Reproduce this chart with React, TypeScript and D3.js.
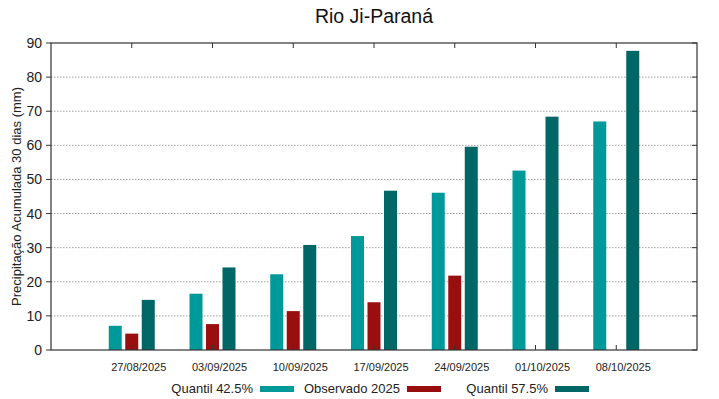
import React, { useRef, useEffect } from 'react';
import * as d3 from 'd3';

const dates = ['27/08/2025', '03/09/2025', '10/09/2025', '17/09/2025', '24/09/2025', '01/10/2025', '08/10/2025'];
const quantil425 = [7.1, 16.5, 22.2, 33.4, 46.1, 52.6, 67.0];
const observado2025 = [4.8, 7.6, 11.4, 14.0, 21.8, null, null];
const quantil575 = [14.7, 24.2, 30.8, 46.7, 59.6, 68.4, 87.7];
const yTicks = [0, 10, 20, 30, 40, 50, 60, 70, 80, 90];

const seriesNames = ['Quantil 42.5%', 'Observado 2025', 'Quantil 57.5%'];
const seriesColors = ['#009999', '#990f0f', '#006666'];

export default function App() {
    const ref = useRef<SVGSVGElement>(null);

    useEffect(() => {
        const width = 719;
        const height = 399;
        const left = 51, right = 697, top = 43, bottom = 350;
        const font = 'Liberation Sans, Arial, sans-serif';

        const svg = d3.select(ref.current);
        svg.selectAll('*').remove();

        const x = d3.scaleLinear().domain([0, dates.length + 1]).range([left, right]);
        const y = d3.scaleLinear().domain([0, 90]).range([bottom, top]);
        const barW = 13;
        const step = 16.5;

        // grid lines
        svg.append('g')
            .selectAll('line')
            .data(yTicks.filter(d => d > 0 && d < 90))
            .enter()
            .append('line')
            .attr('x1', left).attr('x2', right)
            .attr('y1', d => y(d)).attr('y2', d => y(d))
            .attr('stroke', '#a0a0a0')
            .attr('stroke-width', 1)
            .attr('stroke-dasharray', '1.5,1.5');

        // bars
        const allSeries = [quantil425, observado2025, quantil575];
        allSeries.forEach((vals, s) => {
            svg.append('g')
                .selectAll('rect')
                .data(vals.map((v, i) => ({ v, i })).filter(d => d.v !== null))
                .enter()
                .append('rect')
                .attr('x', d => x(d.i + 1) + (s - 1) * step - barW / 2)
                .attr('y', d => y(d.v as number))
                .attr('width', barW)
                .attr('height', d => bottom - y(d.v as number))
                .attr('fill', seriesColors[s]);
        });

        // frame
        svg.append('rect')
            .attr('x', left).attr('y', top)
            .attr('width', right - left).attr('height', bottom - top)
            .attr('fill', 'none')
            .attr('stroke', '#333')
            .attr('stroke-width', 1.2);

        // y ticks (left outward, mirrored right inward)
        const yt = svg.append('g');
        yTicks.forEach(t => {
            yt.append('line').attr('x1', left - 5).attr('x2', left)
                .attr('y1', y(t)).attr('y2', y(t)).attr('stroke', '#333');
            yt.append('line').attr('x1', right - 5).attr('x2', right)
                .attr('y1', y(t)).attr('y2', y(t)).attr('stroke', '#333');
            yt.append('text')
                .attr('x', left - 9).attr('y', y(t) + 5)
                .attr('text-anchor', 'end')
                .style('font-family', font).style('font-size', '14px').attr('fill', '#222')
                .text(t);
        });

        // x ticks (bottom and top)
        const xt = svg.append('g');
        dates.forEach((d, i) => {
            const px = x(i + 1);
            xt.append('line').attr('x1', px).attr('x2', px)
                .attr('y1', bottom).attr('y2', bottom - 5).attr('stroke', '#333');
            xt.append('line').attr('x1', px).attr('x2', px)
                .attr('y1', top).attr('y2', top + 5).attr('stroke', '#333');
            xt.append('text')
                .attr('x', px + 7).attr('y', bottom + 21)
                .attr('text-anchor', 'middle')
                .style('font-family', font).style('font-size', '11px').attr('fill', '#222')
                .text(d);
        });

        // title
        svg.append('text')
            .attr('x', (left + right) / 2).attr('y', 23)
            .attr('text-anchor', 'middle')
            .style('font-family', font).style('font-size', '19.5px').attr('fill', '#111')
            .text('Rio Ji-Paraná');

        // y label
        svg.append('text')
            .attr('transform', `translate(21, ${(top + bottom) / 2}) rotate(-90)`)
            .attr('text-anchor', 'middle')
            .style('font-family', font).style('font-size', '13px').attr('fill', '#222')
            .text('Precipitação Acumulada 30 dias (mm)');

        // legend
        const legendEnds = [253, 400, 548];
        seriesNames.forEach((name, s) => {
            svg.append('text')
                .attr('x', legendEnds[s]).attr('y', 393)
                .attr('text-anchor', 'end')
                .style('font-family', font).style('font-size', '13px').attr('fill', '#222')
                .text(name);
            svg.append('rect')
                .attr('x', legendEnds[s] + 7).attr('y', 386)
                .attr('width', 34).attr('height', 6)
                .attr('fill', seriesColors[s]);
        });

        svg.attr('width', width).attr('height', height);
    }, []);

    return (
        <svg ref={ref} width={719} height={399}
            style={{ position: 'absolute', left: 0, top: 0, background: '#fff' }} />
    );
}
